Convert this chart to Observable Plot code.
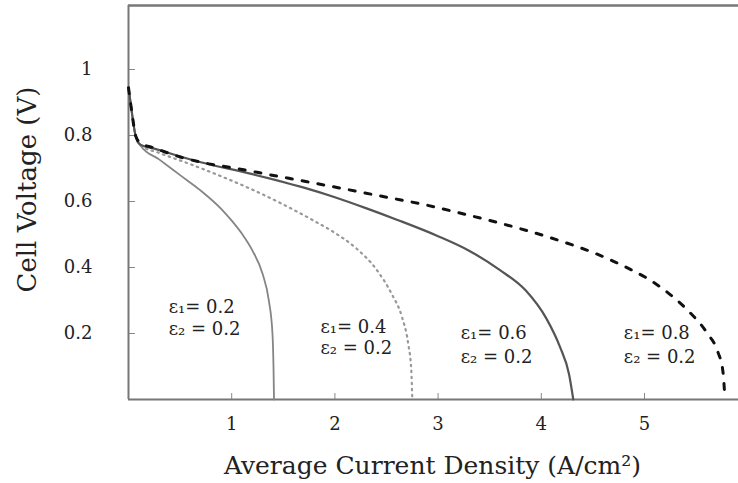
<!DOCTYPE html>
<html><head><meta charset="utf-8">
<script src="https://cdn.jsdelivr.net/npm/d3@7"></script>
<script src="https://cdn.jsdelivr.net/npm/@observablehq/plot@0.6"></script>
<style>body{margin:0;background:#fff;overflow:hidden}</style>
</head><body><div id="chart"></div>
<script>
// ε1 = 0.2 (solid gray)
const curve1X = [0, 0.03, 0.07, 0.116, 0.30, 0.50, 0.70, 0.90, 1.00, 1.10, 1.20, 1.30, 1.36, 1.395, 1.405, 1.41];
const curve1Y = [0.945, 0.876, 0.797, 0.770, 0.727, 0.680, 0.633, 0.577, 0.542, 0.502, 0.452, 0.380, 0.300, 0.200, 0.100, 0];
// ε1 = 0.4 (dotted gray)
const curve2X = [0, 0.03, 0.07, 0.116, 0.30, 0.60, 0.90, 1.20, 1.50, 1.80, 2.00, 2.20, 2.40, 2.55, 2.65, 2.71, 2.74, 2.75];
const curve2Y = [0.945, 0.876, 0.797, 0.770, 0.747, 0.713, 0.676, 0.636, 0.591, 0.541, 0.505, 0.460, 0.395, 0.320, 0.250, 0.170, 0.090, 0];
// ε1 = 0.6 (solid dark)
const curve3X = [0, 0.03, 0.07, 0.116, 0.24, 0.70, 1.20, 1.70, 2.00, 2.30, 2.60, 3.00, 3.30, 3.60, 3.85, 4.05, 4.18, 4.27, 4.31];
const curve3Y = [0.945, 0.876, 0.797, 0.772, 0.761, 0.719, 0.683, 0.642, 0.613, 0.580, 0.545, 0.495, 0.451, 0.392, 0.330, 0.245, 0.160, 0.075, 0];
// ε1 = 0.8 (dashed black)
const curve4X = [0, 0.03, 0.07, 0.116, 0.24, 0.50, 0.75, 1.05, 1.37, 1.73, 2.11, 2.50, 2.89, 3.20, 3.53, 3.86, 4.19, 4.53, 4.84, 5.01, 5.20, 5.42, 5.61, 5.71, 5.76, 5.78];
const curve4Y = [0.945, 0.876, 0.799, 0.777, 0.763, 0.735, 0.716, 0.700, 0.681, 0.660, 0.637, 0.613, 0.589, 0.566, 0.540, 0.512, 0.480, 0.442, 0.398, 0.370, 0.330, 0.270, 0.200, 0.145, 0.085, 0];

const xTicks = [1, 2, 3, 4, 5];
const yTicks = [0.2, 0.4, 0.6, 0.8, 1];

const labelX = [0.39, 1.86, 3.22, 4.80];
const labelY1 = [0.279, 0.218, 0.200, 0.200];
const labelY2 = [0.212, 0.155, 0.127, 0.127];
const labelLine1 = ["ε₁= 0.2", "ε₁= 0.4", "ε₁= 0.6", "ε₁= 0.8"];
const labelLine2 = ["ε₂ = 0.2", "ε₂ = 0.2", "ε₂ = 0.2", "ε₂ = 0.2"];

const xTitle = "Average Current Density (A/cm²)";
const yTitle = "Cell Voltage (V)";

const toRows = (xs, ys) => xs.map((x, i) => ({x, y: ys[i]}));
const c1 = toRows(curve1X, curve1Y);
const c2 = toRows(curve2X, curve2Y);
const c3 = toRows(curve3X, curve3Y);
const c4 = toRows(curve4X, curve4Y);
const labels1 = labelX.map((x, i) => ({x, y: labelY1[i], t: labelLine1[i]}));
const labels2 = labelX.map((x, i) => ({x, y: labelY2[i], t: labelLine2[i]}));

const X_MAX = 5.911, Y_MAX = 1.194;
const fmt = d => String(d);

const chart = Plot.plot({
  width: 738, height: 483,
  marginLeft: 128, marginRight: 0, marginTop: 5, marginBottom: 84,
  x: {domain: [0, X_MAX]},
  y: {domain: [0, Y_MAX]},
  style: {fontFamily: "DejaVu Serif", background: "#fff", color: "#222"},
  marks: [
    Plot.axisX({ticks: xTicks, tickFormat: fmt, tickSize: -6, tickPadding: 24, stroke: "#888", fontSize: 18, label: null}),
    Plot.axisY({ticks: yTicks, tickFormat: fmt, tickSize: -7, tickPadding: 43, stroke: "#888", fontSize: 18, label: null}),
    Plot.ruleX([0], {stroke: "#777", strokeWidth: 2}),
    Plot.ruleY([0], {stroke: "#777", strokeWidth: 2}),
    Plot.ruleY([Y_MAX], {stroke: "#777", strokeWidth: 2.5}),
    Plot.line(c1, {x: "x", y: "y", stroke: "#858585", strokeWidth: 1.8, curve: "monotone-x"}),
    Plot.line(c2, {x: "x", y: "y", stroke: "#999", strokeWidth: 2.2, strokeDasharray: "1.5,4.5", curve: "monotone-x"}),
    Plot.line(c3, {x: "x", y: "y", stroke: "#555", strokeWidth: 2.2, curve: "monotone-x"}),
    Plot.line(c4, {x: "x", y: "y", stroke: "#111", strokeWidth: 3, strokeDasharray: "6,10", curve: "monotone-x"}),
    Plot.text(labels1, {x: "x", y: "y", text: "t", textAnchor: "start", fontSize: 18, fill: "#222"}),
    Plot.text(labels2, {x: "x", y: "y", text: "t", textAnchor: "start", fontSize: 18, fill: "#222"}),
    Plot.text([yTitle], {frameAnchor: "left", rotate: -90, dx: -101, dy: 90, fontSize: 26, fill: "#222"}),
    Plot.text([xTitle], {frameAnchor: "bottom", dx: -1, dy: 74, fontSize: 25, fill: "#222"})
  ]
});
document.getElementById("chart").append(chart);
</script>
</body></html>
